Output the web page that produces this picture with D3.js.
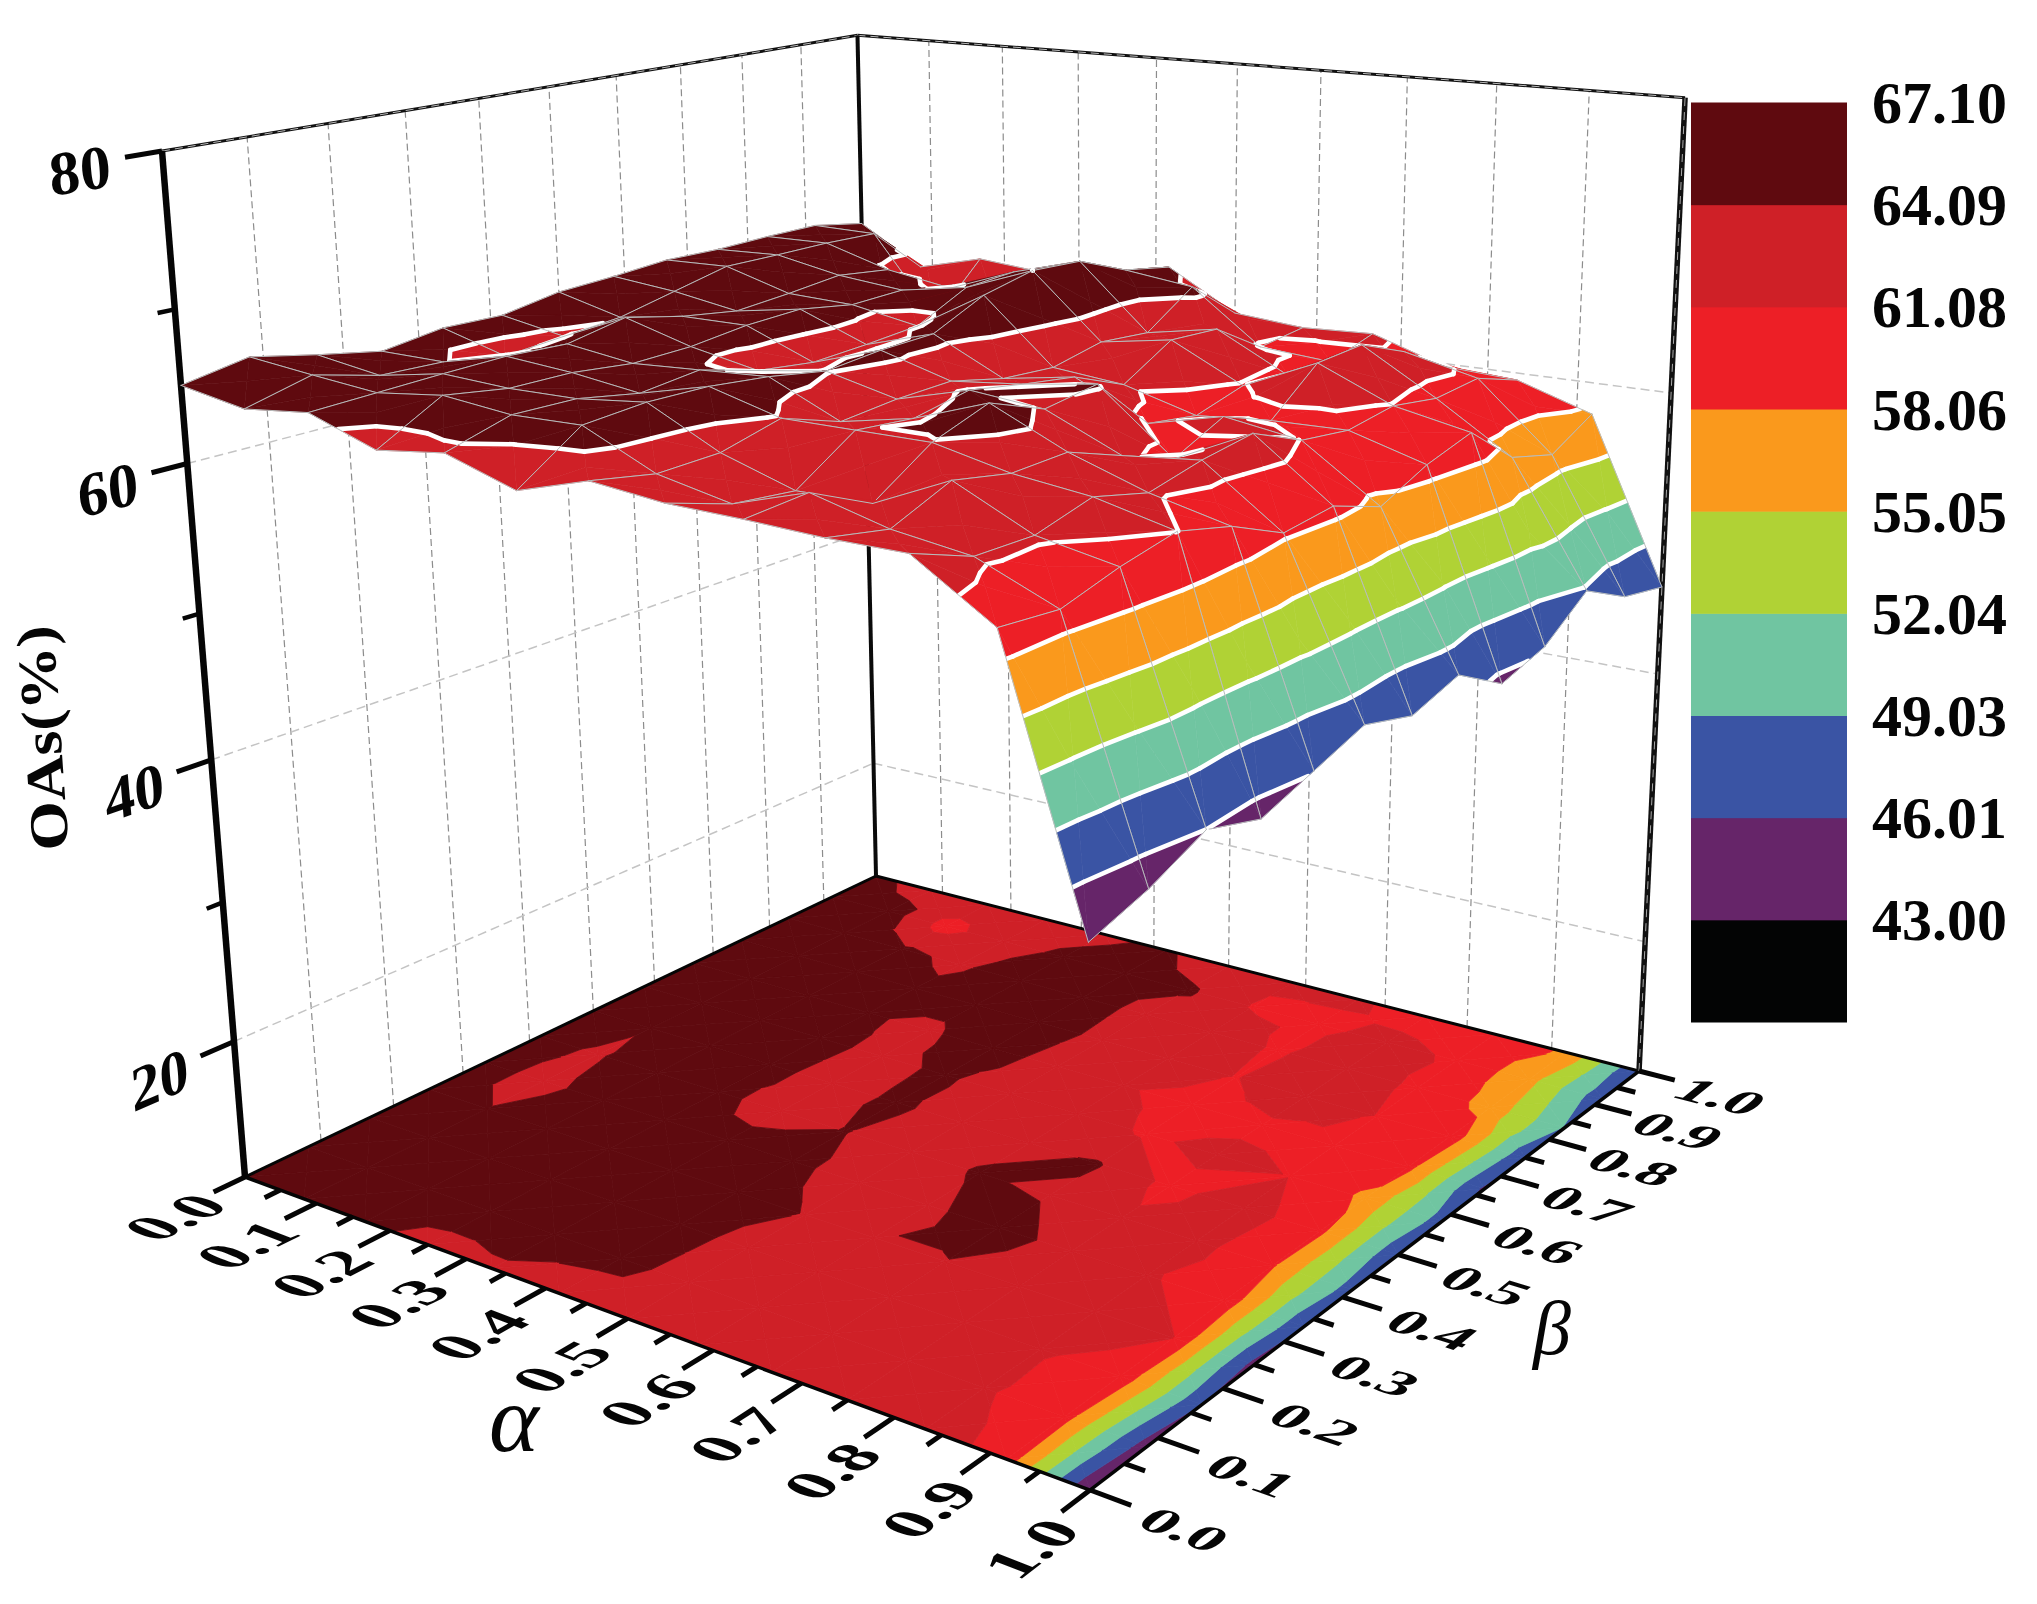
<!DOCTYPE html>
<html><head><meta charset="utf-8">
<script src="https://cdn.jsdelivr.net/npm/d3@7"></script>
<style>html,body{margin:0;padding:0;background:#fff}svg{display:block}</style>
</head><body><svg id="c" width="2037" height="1604"></svg>
<script>
// OAs(%) read from the surface: one list per alpha row, beta runs left to right
const oasA00=[65.1,65.9,65.0,64.2,64.8,64.7,65.4,65.6,65.9,65.8,65.9,65.9,65.2];
const oasA01=[64.3,65.4,64.3,64.15,63.5,63.85,64.2,65.1,66.0,65.95,65.95,65.8,62.3];
const oasA02=[64.8,64.95,65.1,65.2,65.0,65.8,64.9,64.3,64.6,65.0,64.5,59.8,63.5];
const oasA03=[63.2,65.5,64.85,64.8,64.35,64.45,64.9,65.05,64.4,64.5,63.7,63.2,63.05];
const oasA04=[63.8,65.0,64.9,64.15,64.6,63.5,63.0,63.2,63.5,65.3,65.5,64.5,63.6];
const oasA05=[62.3,65.1,65.4,65.3,64.85,64.15,64.5,64.6,66.3,67.1,66.85,65.3,64.6];
const oasA06=[63.7,62.9,63.0,64.0,62.65,63.0,63.1,62.2,61.9,62.65,62.3,64.65,61.75];
const oasA07=[63.2,61.9,61.45,64.0,63.6,64.3,63.6,63.0,61.4,63.45,63.2,60.9,61.3];
const oasA08=[63.1,63.4,61.5,64.0,65.3,63.8,64.3,60.6,60.0,60.95,60.6,60.5,61.5];
const oasA09=[62.9,62.1,63.7,62.9,63.0,61.6,60.2,61.8,60.4,63.2,63.4,61.9,59.8];
const oasA10=[62.9,61.4,61.3,62.3,61.3,62.1,62.6,61.0,60.5,61.0,60.4,60.7,59.5];
const oasA11=[59.7,59.3,60.35,61.1,60.1,58.4,58.8,57.5,59.0,59.95,57.1,56.1,57.8];
const oasA12=[43.1,44.3,46.0,44.9,46.15,47.4,46.4,47.5,45.4,46.4,48.8,47.0,46.3];
const oas=[oasA00,oasA01,oasA02,oasA03,oasA04,oasA05,oasA06,oasA07,oasA08,oasA09,oasA10,oasA11,oasA12];

const levels=[43.00,46.01,49.03,52.04,55.05,58.06,61.08,64.09,67.10];
const bandColors=["#030404","#662569","#3a54a4","#70c5a1","#b0d235","#fa991c","#ed1f26","#cf2027","#5f0a0f","#5f0a0f"];
const axisTicks=[0,0.1,0.2,0.3,0.4,0.5,0.6,0.7,0.8,0.9,1.0];
const axisMinor=[0.05,0.15,0.25,0.35,0.45,0.55,0.65,0.75,0.85,0.95];
const zMajor=[20,40,60,80];
const zMinor=[30,50,70];
const zGrid=[20,40,60];
// cells whose saddle resolves along one diagonal
const diagonalCells=new Map([["7,5","main"],["7,4","anti"],["8,6","anti"],["9,6","main"]]);

const svg=d3.select("#c");
const SERIF="'Liberation Serif','Times New Roman',serif";
const gridU=d3.scaleLinear().domain([0,oas.length-1]).range([0,1]);
const zT=d3.scaleLinear().domain([10,80]).range([0,1]);
// camera: homogeneous projection of (alpha,beta,t)
const cam={xa:655.9,xb:834.5,xt:-97,x0:245,ya:54.5,yb:-97.5,yt:-1039,y0:1177,wa:-0.1735,wb:0.2323,wt:-0.0865};
function P(a,b,z){const t=zT(z),w=1+cam.wa*a+cam.wb*b+cam.wt*t;
  return [(cam.xa*a+cam.xb*b+cam.xt*t+cam.x0)/w,(cam.ya*a+cam.yb*b+cam.yt*t+cam.y0)/w];}
const FLOOR=10,TOP=80;
const line=d3.line();
function seg(g,p,q,w,col,dash,cap){const s=g.append("line").attr("x1",p[0]).attr("y1",p[1]).attr("x2",q[0]).attr("y2",q[1])
  .attr("stroke",col).attr("stroke-width",w).attr("stroke-linecap",cap||"butt");if(dash)s.attr("stroke-dasharray",dash);return s;}

// walls
const gW=svg.append("g");
axisTicks.slice(1,-1).forEach(b=>seg(gW,P(0,b,FLOOR),P(0,b,TOP),1.2,"#8c8c8c","7 4"));
axisTicks.slice(1,-1).forEach(a=>seg(gW,P(a,1,FLOOR),P(a,1,TOP),1.2,"#8c8c8c","7 4"));
zGrid.forEach(z=>{seg(gW,P(0,0,z),P(0,1,z),1.5,"#c4c4c4","9 5");seg(gW,P(0,1,z),P(1,1,z),1.5,"#c4c4c4","9 5");});

// corners and triangles of a cell
function corners(i,j){const u0=gridU(i),u1=gridU(i+1),v0=gridU(j),v1=gridU(j+1);
  return {A:{a:u0,b:v0,z:oas[i][j]},B:{a:u1,b:v0,z:oas[i+1][j]},C:{a:u1,b:v1,z:oas[i+1][j+1]},D:{a:u0,b:v1,z:oas[i][j+1]}};}
function cellTris(i,j){const {A,B,C,D}=corners(i,j),mode=diagonalCells.get(i+","+j);
  if(mode==="main")return [[A,D,C],[A,C,B]];
  if(mode==="anti")return [[D,C,B],[A,D,B]];
  const M={a:(A.a+B.a)/2,b:(A.b+D.b)/2,z:d3.mean([A.z,B.z,C.z,D.z])};
  return [[D,C,M],[A,D,M],[C,B,M],[B,A,M]];}
function lerp(p,q,z){const f=(z-p.z)/(q.z-p.z);return {a:p.a+(q.a-p.a)*f,b:p.b+(q.b-p.b)*f,z};}
function clip(poly,z,keepAbove){const out=[];for(let k=0;k<poly.length;k++){const p=poly[k],q=poly[(k+1)%poly.length];
  const pi=keepAbove?p.z>=z:p.z<=z,qi=keepAbove?q.z>=z:q.z<=z;if(pi)out.push(p);if(pi!==qi)out.push(lerp(p,q,z));}return out;}
const edges=[-Infinity,...levels,Infinity];
function drawBands(g,tri,project,stroke){
  for(let k=0;k<edges.length-1;k++){let poly=tri;
    if(edges[k]>-Infinity)poly=clip(poly,edges[k],true);
    if(poly.length&&edges[k+1]<Infinity)poly=clip(poly,edges[k+1],false);
    if(poly.length<3)continue;
    g.append("path").attr("d",line(poly.map(project))+"Z").attr("fill",bandColors[k]).attr("stroke",bandColors[k]).attr("stroke-width",stroke);}
}
// floor
const gF=svg.append("g");
const floorProj=p=>P(p.a,p.b,FLOOR);
d3.range(oas.length-1).forEach(i=>d3.range(oas.length-1).forEach(j=>cellTris(i,j).forEach(t=>drawBands(gF,t,floorProj,0.8))));

// frame
const gA=svg.append("g");
seg(gA,P(0,0,FLOOR),P(0,1,FLOOR),3,"#050505");
seg(gA,P(0,1,FLOOR),P(1,1,FLOOR),3,"#050505");
seg(gA,P(0,0,FLOOR),P(1,0,FLOOR),3.5,"#050505");
seg(gA,P(1,0,FLOOR),P(1,1,FLOOR),3.5,"#050505");
seg(gA,P(0,0,TOP),P(0,1,TOP),3,"#111");seg(gA,P(0,0,TOP),P(0,1,TOP),1,"#bbb","8 5");
seg(gA,P(0,1,TOP),P(1,1,TOP),3,"#111");seg(gA,P(0,1,TOP),P(1,1,TOP),1,"#bbb","8 5");
seg(gA,P(0,1,FLOOR),P(0,1,TOP),4,"#0a0a0a");
seg(gA,P(1,1,FLOOR),P(1,1,TOP),5.5,"#111");seg(gA,P(1,1,FLOOR),P(1,1,TOP),1,"#aaa","8 6");
seg(gA,P(0,0,FLOOR),P(0,0,TOP),6.5,"#050505");
zMajor.forEach(z=>seg(gA,P(0,0,z),P(0,-0.042,z),5,"#050505"));
zMinor.forEach(z=>seg(gA,P(0,0,z),P(0,-0.02,z),4.5,"#050505"));
axisTicks.forEach(a=>seg(gA,P(a,0,FLOOR),P(a,-0.04,FLOOR),5,"#050505"));
axisMinor.forEach(a=>seg(gA,P(a,0,FLOOR),P(a,-0.02,FLOOR),5,"#050505"));
axisTicks.forEach(b=>seg(gA,P(1,b,FLOOR),P(1.04,b,FLOOR),5,"#050505"));
axisMinor.forEach(b=>seg(gA,P(1,b,FLOOR),P(1.02,b,FLOOR),5,"#050505"));

// surface, back to front
const gS=svg.append("g");
const surfProj=p=>P(p.a,p.b,p.z);
for(let i=0;i<oas.length-1;i++)for(let j=oas.length-2;j>=0;j--){
  const g=gS.append("g"),tris=cellTris(i,j),{A,B,C,D}=corners(i,j);
  tris.forEach(t=>drawBands(g,t,surfProj,0.6));
  tris.forEach(t=>{levels.forEach(z=>{const pts=[];for(let k=0;k<3;k++){const p=t[k],q=t[(k+1)%3];
      if((p.z<z)!==(q.z<z))pts.push(lerp(p,q,z));}
    if(pts.length===2)seg(g,surfProj(pts[0]),surfProj(pts[1]),4.6,"#ffffff",null,"round");});});
  [[A,D],[D,C],[C,B],[B,A]].forEach(e=>seg(g,surfProj(e[0]),surfProj(e[1]),1,"#b9bdbd",null,"round"));
}

// text on the planes
function unit(p,q){const dx=q[0]-p[0],dy=q[1]-p[1],l=Math.hypot(dx,dy);return [dx/l,dy/l];}
function decal(txt,p,ex,ey,sx,sy,size){svg.append("text").text(txt)
  .attr("transform",`matrix(${ex[0]*sx},${ex[1]*sx},${ey[0]*sy},${ey[1]*sy},${p[0]},${p[1]})`)
  .attr("text-anchor","middle").attr("y",size*0.33).attr("font-family",SERIF).attr("font-weight","bold").attr("font-size",size).attr("fill","#050505");}
const fmt=d3.format(".1f");
axisTicks.forEach(a=>{const u=a+0.012,v=-0.098,p=P(u,v,FLOOR);
  decal(fmt(a),p,unit(p,P(u,v+0.02,FLOOR)),unit(p,P(u+0.02,v,FLOOR)),1.45,1.35,46);});
axisTicks.forEach(b=>{const u=1.09,v=b,p=P(u,v,FLOOR);
  decal(fmt(b),[p[0],p[1]+5],unit(p,P(u+0.02,v,FLOOR)),unit(p,P(u,v-0.02,FLOOR)),1.42,1.0,46);});
zMajor.forEach(z=>{const p=P(0,-0.092,z);
  decal(String(z),[p[0],p[1]+6],unit(p,P(0,-0.07,z)),unit(p,P(0,-0.092,z-5)),1.0,1.0,62);});
svg.append("text").text("OAs(%)").attr("transform","translate(44,738) rotate(-94) scale(1.22,1.05)").attr("text-anchor","middle").attr("y",16)
  .attr("font-family",SERIF).attr("font-weight","bold").attr("font-size",52).attr("fill","#050505");
svg.append("text").text("α").attr("x",514).attr("y",1451).attr("text-anchor","middle").attr("font-family",SERIF).attr("font-style","italic").attr("font-size",95).attr("fill","#050505");
svg.append("text").text("β").attr("x",1552).attr("y",1354).attr("text-anchor","middle").attr("font-family",SERIF).attr("font-style","italic").attr("font-size",76).attr("fill","#050505");

// legend
const legendIdx=d3.range(levels.length);
const legY=d3.scaleBand().domain(legendIdx).range([1022,102.5]);
const gL=svg.append("g");
legendIdx.forEach(k=>gL.append("rect").attr("x",1691).attr("y",legY(k)).attr("width",156).attr("height",legY.bandwidth()+0.5).attr("fill",bandColors[k]));
levels.forEach((l,k)=>gL.append("text").text(d3.format(".2f")(l)).attr("x",1872).attr("y",legY(k)+20.5)
  .attr("font-family",SERIF).attr("font-weight","bold").attr("font-size",60).attr("fill","#050505"));
</script></body></html>
